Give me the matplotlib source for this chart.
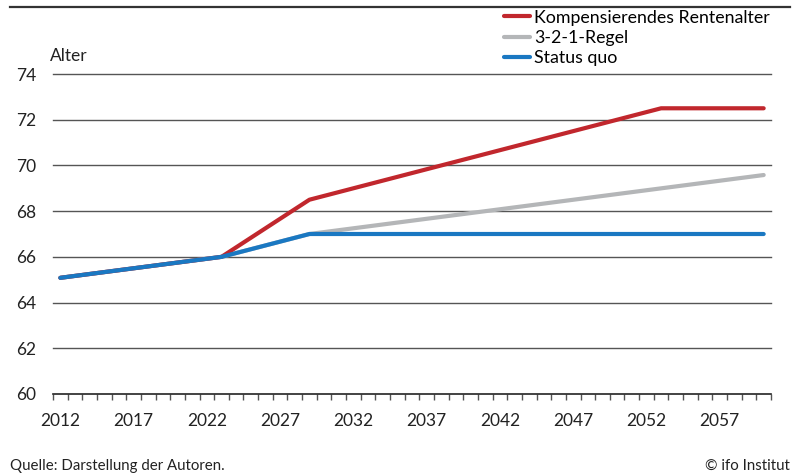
import numpy as np
import matplotlib.pyplot as plt
from matplotlib.ticker import FixedLocator

# Daten: Rentenalter nach Szenario (Knickpunkte)
years_status = [2012, 2023, 2029, 2060]
status_quo = [65.083, 66.0, 67.0, 67.0]

years_321 = [2012, 2023, 2029, 2060]
regel_321 = [65.083, 66.0, 67.0, 69.58]

years_komp = [2012, 2023, 2029, 2053, 2060]
komp_rente = [65.083, 66.0, 68.5, 72.5, 72.5]

tick_years = [2012, 2017, 2022, 2027, 2032, 2037, 2042, 2047, 2052, 2057]
y_ticks = [60, 62, 64, 66, 68, 70, 72, 74]

RED = '#c1272d'
GREY = '#b4b6b8'
BLUE = '#1a78c2'

plt.rcParams['font.family'] = ['Lato', 'DejaVu Sans']

fig = plt.figure(figsize=(7.98, 4.75), dpi=100)
ax = fig.add_axes([53 / 798, 1 - 394 / 475, (771 - 53) / 798, (394 - 74) / 475])

ax.plot(years_321, regel_321, color=GREY, linewidth=3, solid_capstyle='round', label='3-2-1-Regel')
ax.plot(years_komp, komp_rente, color=RED, linewidth=3, solid_capstyle='round', label='Kompensierendes Rentenalter')
ax.plot(years_status, status_quo, color=BLUE, linewidth=3, solid_capstyle='round', label='Status quo')

ax.set_xlim(2011.5, 2060.5)
ax.set_ylim(60, 74)

ax.set_xticks(tick_years)
ax.set_xticklabels([str(y) for y in tick_years], fontsize=12.5, color='#222222')
ax.tick_params(axis='x', which='major', length=0, pad=14)
ax.xaxis.set_minor_locator(FixedLocator(np.arange(2011.5, 2061, 1)))
ax.tick_params(axis='x', which='minor', length=4, width=1, color='#555555', direction='out')

ax.set_yticks(y_ticks)
ax.set_yticklabels([str(v) for v in y_ticks], fontsize=12.5, color='#222222')
ax.tick_params(axis='y', length=0, pad=12)

for v in y_ticks[1:]:
    ax.axhline(v, color='#555555', linewidth=1, zorder=0, clip_on=False)

for s in ['top', 'right', 'left']:
    ax.spines[s].set_visible(False)
ax.spines['bottom'].set_color('#222222')
ax.spines['bottom'].set_linewidth(1.2)

ax.text(50 / 798, 1 - 56 / 475, 'Alter', transform=fig.transFigure, fontsize=12.5,
        va='center', ha='left', color='#222222')

handles, labels = ax.get_legend_handles_labels()
order = [1, 0, 2]
leg = fig.legend([handles[i] for i in order], [labels[i] for i in order],
                 loc='upper left', bbox_to_anchor=(500 / 798, 1 - 6 / 475),
                 frameon=False, fontsize=12.8, handlelength=1.5, handletextpad=0.2,
                 labelspacing=0.25, borderaxespad=0, borderpad=0.2)

# obere Linie
fig.add_artist(plt.Line2D([10 / 798, 790 / 798], [1 - 7 / 475, 1 - 7 / 475],
                          transform=fig.transFigure, color='#333333', linewidth=1.6))

fig.text(10 / 798, 1 - 466 / 475, 'Quelle: Darstellung der Autoren.', fontsize=10.8,
         va='center', ha='left', color='#222222')
fig.text(790 / 798, 1 - 466 / 475, '© ifo Institut', fontsize=10.8,
         va='center', ha='right', color='#222222')

fig.savefig('out.png', dpi=100)
